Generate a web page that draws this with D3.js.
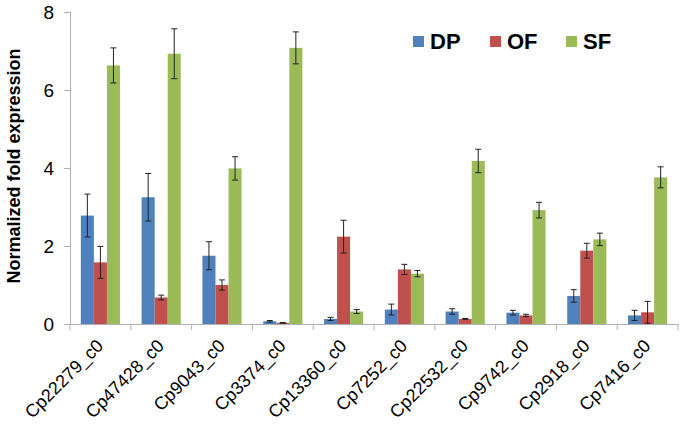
<!DOCTYPE html>
<html><head><meta charset="utf-8">
<script src="https://cdn.jsdelivr.net/npm/d3@7"></script>
<style>body{margin:0;background:#fff}svg{display:block}</style>
</head><body><svg id="c" width="685" height="424"></svg>
<script>
const categories = ["Cp22279_c0","Cp47428_c0","Cp9043_c0","Cp3374_c0","Cp13360_c0","Cp7252_c0","Cp22532_c0","Cp9742_c0","Cp2918_c0","Cp7416_c0"];
const seriesNames = ["DP","OF","SF"];
const colors = ["#4F81BD","#C0504D","#9BBB59"];
const DP = [2.78,3.25,1.75,0.07,0.13,0.37,0.32,0.29,0.72,0.22];
const OF = [1.58,0.68,1.00,0.03,2.24,1.40,0.13,0.22,1.88,0.30];
const SF = [6.63,6.93,3.99,7.08,0.32,1.29,4.18,2.92,2.17,3.76];
const DP_err = [0.55,0.61,0.36,0.02,0.04,0.14,0.07,0.06,0.16,0.13];
const OF_err = [0.41,0.06,0.13,0.01,0.42,0.13,0.01,0.03,0.19,0.28];
const SF_err = [0.45,0.64,0.30,0.41,0.05,0.08,0.30,0.20,0.16,0.27];
const yTicks = [0,2,4,6,8];

const values = [DP,OF,SF], errs = [DP_err,OF_err,SF_err];
const svg = d3.select("#c");
const m = {l:70, r:7, t:12, b:100};
const W = 685, H = 424;
const x = d3.scaleBand().domain(categories).range([m.l, W-m.r]);
const xs = d3.scaleBand().domain(seriesNames).range([0, x.bandwidth()]).paddingOuter(0.83).paddingInner(0);
const y = d3.scaleLinear().domain([0,8]).range([H-m.b, m.t]);
const font = "'Liberation Sans', Arial, sans-serif";

// bars
seriesNames.forEach((s,si)=>{
  const g = svg.append("g");
  g.selectAll("rect").data(categories).join("rect")
    .attr("x", c=>x(c)+xs(s)).attr("width", xs.bandwidth())
    .attr("y", (c,i)=>y(values[si][i])).attr("height",(c,i)=>y(0)-y(values[si][i]))
    .attr("fill", colors[si]);
  const eg = svg.append("g").attr("stroke","#222").attr("stroke-width",1);
  categories.forEach((c,i)=>{
    const cx = x(c)+xs(s)+xs.bandwidth()/2;
    const v = values[si][i], e = errs[si][i];
    const y1 = y(v+e), y2 = y(Math.max(0,v-e));
    eg.append("line").attr("x1",cx).attr("x2",cx).attr("y1",y1).attr("y2",y2);
    eg.append("line").attr("x1",cx-3).attr("x2",cx+3).attr("y1",y1).attr("y2",y1);
    eg.append("line").attr("x1",cx-3).attr("x2",cx+3).attr("y1",y2).attr("y2",y2);
  });
});

// y axis
const ya = svg.append("g").attr("transform",`translate(${m.l},0)`)
  .call(d3.axisLeft(y).tickValues(yTicks).tickSize(6).tickPadding(10).tickFormat(d3.format("d")));
ya.select(".domain").attr("stroke","#b0b0b0");
ya.selectAll(".tick line").attr("stroke","#b0b0b0");
ya.selectAll(".tick text").attr("font-family",font).attr("font-size",19).attr("fill","#000");

// x axis
const xa = svg.append("g").attr("transform",`translate(0,${y(0)})`)
  .call(d3.axisBottom(x).tickSize(0).tickFormat(""));
xa.select(".domain").attr("stroke","#b0b0b0");
const bounds = categories.map(c=>x(c)).concat([x.range()[1]]);
xa.selectAll(".sep").data(bounds).join("line").attr("class","sep")
  .attr("x1",d=>d).attr("x2",d=>d).attr("y1",0).attr("y2",6).attr("stroke","#b0b0b0");
svg.append("g").selectAll("text").data(categories).join("text")
  .attr("transform",c=>`translate(${x(c)+x.bandwidth()/2+4},${y(0)+23}) rotate(-45)`)
  .attr("text-anchor","end").attr("font-family",font).attr("font-size",18).attr("fill","#000")
  .text(c=>c);

// y title
svg.append("text").attr("transform",`translate(20,${(m.t+y(0))/2-2}) rotate(-90)`)
  .attr("text-anchor","middle").attr("font-family",font).attr("font-weight","bold")
  .attr("font-size",18).attr("fill","#000").text("Normalized fold expression");

// legend
const lx = [413,490,566];
const lg = svg.append("g");
seriesNames.forEach((s,i)=>{
  lg.append("rect").attr("x",lx[i]).attr("y",36).attr("width",11).attr("height",11).attr("fill",colors[i]);
  lg.append("text").attr("x",lx[i]+17).attr("y",49).attr("font-family",font).attr("font-weight","bold")
    .attr("font-size",22).attr("fill","#000").text(s);
});
</script></body></html>
